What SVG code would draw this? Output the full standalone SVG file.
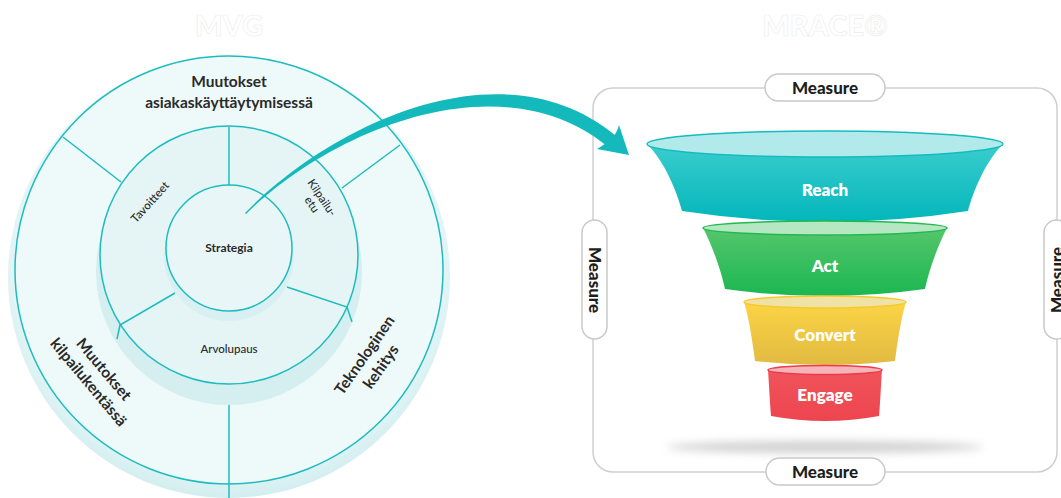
<svg xmlns="http://www.w3.org/2000/svg" width="1061" height="498" viewBox="0 0 1061 498">
  <defs>
    <style>
      .ring { stroke: #1dbcbe; stroke-width: 1.5; }
      .div { stroke: #1dbcbe; stroke-width: 1.5; fill: none; }
      .lbl { font-family: Lato, "Liberation Sans", sans-serif; fill: #2a2a2a; text-anchor: middle; }
      .big { font-size: 15.5px; font-weight: 700; }
      .small { font-size: 11.5px; font-weight: 500; }
      .title { font-family: Lato, "Liberation Sans", sans-serif; font-weight: 900; font-size: 29px; fill: #ffffff; stroke: #ececec; stroke-width: 0.6; text-anchor: middle; }
      .stage { font-family: Lato, "Liberation Sans", sans-serif; font-weight: 800; font-size: 17px; fill: #ffffff; text-anchor: middle; }
      .pill { fill: #ffffff; stroke: #c9c9c9; stroke-width: 1.5; }
      .meas { font-family: Lato, "Liberation Sans", sans-serif; font-weight: 900; font-size: 17px; fill: #1e1e1e; text-anchor: middle; }
    </style>
    <linearGradient id="gReach" x1="0" y1="0" x2="0" y2="1">
      <stop offset="0" stop-color="#3acdce"/>
      <stop offset="1" stop-color="#03b6ba"/>
    </linearGradient>
    <linearGradient id="gAct" x1="0" y1="0" x2="0" y2="1">
      <stop offset="0" stop-color="#55c66b"/>
      <stop offset="1" stop-color="#1bb752"/>
    </linearGradient>
    <linearGradient id="gConvert" x1="0" y1="0" x2="0" y2="1">
      <stop offset="0" stop-color="#fcd445"/>
      <stop offset="1" stop-color="#e1ba42"/>
    </linearGradient>
    <linearGradient id="gEngage" x1="0" y1="0" x2="0" y2="1">
      <stop offset="0" stop-color="#f0545b"/>
      <stop offset="1" stop-color="#ed4550"/>
    </linearGradient>
    <radialGradient id="gBase" cx="0.5" cy="0.45" r="0.55">
      <stop offset="0.9" stop-color="#e2f4f5"/>
      <stop offset="1" stop-color="#d3eef0"/>
    </radialGradient>
    <filter id="blur" x="-20%" y="-200%" width="140%" height="500%">
      <feGaussianBlur stdDeviation="4"/>
    </filter>
  </defs>

  <rect width="1061" height="498" fill="#ffffff"/>

  <!-- headings -->
  <text class="title" x="229" y="36">MVG</text>
  <text class="title" x="825" y="36">MRACE®</text>

  <!-- layered strategy disc -->
  <g id="disc">
    <circle cx="229" cy="277" r="221" fill="url(#gBase)"/>
    <circle class="ring" cx="229" cy="270" r="214" fill="#eef9fa"/>
    <circle cx="229" cy="272" r="133" fill="#d5eef0"/>
    <circle class="ring" cx="229" cy="255" r="129" fill="#e5f5f6"/>
    <circle cx="229" cy="256" r="65" fill="#d9f0f2"/>
    <circle class="ring" cx="229" cy="248" r="63" fill="#e9f6f7"/>
    <path class="div" d="M63,137 L121,182"/>
    <path class="div" d="M400,145 L342,188"/>
    <path class="div" d="M229,405 L229,498"/>
    <path class="div" d="M229,127 L229,185"/>
    <path class="div" d="M175,293 L120,325 L117,339"/>
    <path class="div" d="M287,287 L347,307 L352,322"/>
  </g>

  <g id="strategia">
    <text class="lbl" x="229" y="252" style="font-size:12px;font-weight:700">Strategia</text>
  </g>
  <g id="tavoitteet">
    <text class="lbl small" transform="translate(150,202) rotate(-48)" y="4">Tavoitteet</text>
  </g>
  <g id="kilpailuetu">
    <g transform="translate(317,201) rotate(56)">
      <text class="lbl small" x="0" y="-2">Kilpailu-</text>
      <text class="lbl small" x="0" y="10">etu</text>
    </g>
  </g>
  <g id="arvolupaus">
    <text class="lbl small" x="229" y="353">Arvolupaus</text>
  </g>
  <g id="asiakaskayttaytyminen">
    <text class="lbl big" x="229" y="87">Muutokset</text>
    <text class="lbl big" x="229" y="108">asiakaskäyttäytymisessä</text>
  </g>
  <g id="kilpailukentta">
    <g transform="translate(96,376) rotate(50)">
      <text class="lbl big" x="0" y="-5">Muutokset</text>
      <text class="lbl big" x="0" y="15">kilpailukentässä</text>
    </g>
  </g>
  <g id="teknologia">
    <g transform="translate(373,361) rotate(-55)">
      <text class="lbl big" x="0" y="-5">Teknologinen</text>
      <text class="lbl big" x="0" y="15">kehitys</text>
    </g>
  </g>

  <!-- RACE frame -->
  <g id="frame">
    <rect x="593" y="88" width="464" height="384" rx="20" fill="none" stroke="#cfcfcf" stroke-width="1.5"/>
  </g>

  <!-- funnel floor shadow -->
  <ellipse cx="825" cy="447" rx="158" ry="6" fill="#9a9a9a" opacity="0.45" filter="url(#blur)"/>

  <g id="reach">
    <path d="M647,144 C665,162 677,192 682,211 Q825,233 968,211 C973,192 985,162 1003,144 Z" fill="url(#gReach)"/>
    <ellipse cx="825" cy="144" rx="178" ry="13" fill="#b2e9ea" stroke="#15bcbf" stroke-width="1.5"/>
    <text class="stage" x="825" y="196">Reach</text>
  </g>
  <g id="act">
    <path d="M703,228 C712,245 721,270 725,289 Q825,303 925,289 C929,270 938,245 947,228 Z" fill="url(#gAct)"/>
    <ellipse cx="825" cy="228" rx="122" ry="7" fill="#b6e7c3" stroke="#22b94f" stroke-width="1.5"/>
    <text class="stage" x="825" y="272">Act</text>
  </g>
  <g id="convert">
    <path d="M744,302 C749,318 753,345 755,361 Q825,369 895,361 C897,345 901,318 906,302 Z" fill="url(#gConvert)"/>
    <ellipse cx="825" cy="302" rx="81" ry="6" fill="#efe2a6" stroke="#f7c92a" stroke-width="1.5"/>
    <text class="stage" x="825" y="341">Convert</text>
  </g>
  <g id="engage">
    <path d="M768,370 C769,385 770,405 771,416 Q825,426 879,416 C880,405 881,385 882,370 Z" fill="url(#gEngage)"/>
    <ellipse cx="825" cy="370" rx="57" ry="4.5" fill="#f4b4b9" stroke="#ee3a4a" stroke-width="1.5"/>
    <text class="stage" x="825" y="401">Engage</text>
  </g>

  <g id="measure-top">
    <rect class="pill" x="765" y="74" width="120" height="27" rx="13.5"/>
    <text class="meas" x="825" y="93.5">Measure</text>
  </g>
  <g id="measure-bottom">
    <rect class="pill" x="766" y="458" width="119" height="27" rx="13.5"/>
    <text class="meas" x="825" y="477.5">Measure</text>
  </g>
  <g id="measure-left">
    <rect class="pill" x="582" y="220" width="25" height="119" rx="12.5"/>
    <text class="meas" transform="translate(594.5,280) rotate(90)" y="6">Measure</text>
  </g>
  <g id="measure-right">
    <rect class="pill" x="1044" y="220" width="25" height="119" rx="12.5"/>
    <text class="meas" transform="translate(1056.5,280) rotate(-90)" y="6">Measure</text>
  </g>

  <!-- connector: strategy flows into the funnel -->
  <g id="connectors" fill="#14b9bc">
    <path d="M245,213 C332,124 503,42 616,136 L607,146 C497,58 328,133 246,214 Z"/>
    <path d="M619,125 L629,155 L597,149 Q607,143 612,138 Q617,133 619,125 Z"/>
  </g>
</svg>
